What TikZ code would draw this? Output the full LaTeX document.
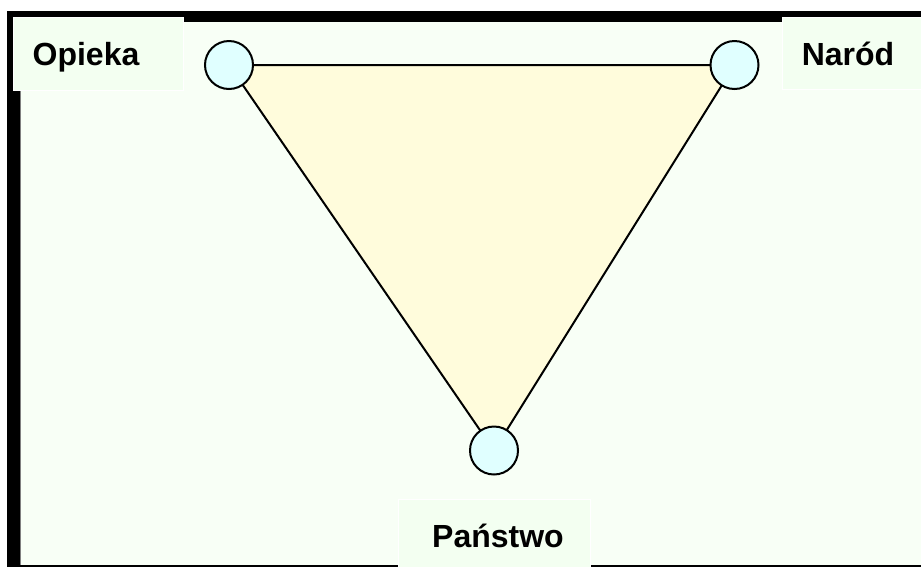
\documentclass[tikz,border=0pt]{standalone}
\usepackage{fontspec}
\setmainfont{Liberation Sans}
\definecolor{bgc}{HTML}{F8FFF6}
\definecolor{boxc}{HTML}{F3FFF1}
\definecolor{trif}{HTML}{FFFCDC}
\definecolor{circf}{HTML}{E0FFFF}
\begin{document}
\begin{tikzpicture}[x=1pt,y=-1pt,
  lbl/.style={fill=boxc,draw=white,line width=0.8pt,inner sep=0pt},
  lbltext/.style={font=\fontsize{32}{36}\selectfont\bfseries,anchor=base,inner sep=0pt},
  vtx/.style={circle,draw=black,fill=circf,line width=2pt,minimum size=48pt,inner sep=0pt},
  edge/.style={draw=black,line width=2pt}]
\useasboundingbox (0,0) rectangle (921,566);
\fill[white] (0,0) rectangle (921,566);
% frame
\fill[black] (7,11) rectangle (930,575);
\fill[bgc] (20,22) rectangle (930,565);
\draw[gray,line width=0.6pt] (20.3,22) -- (20.3,565);
% label boxes
\path[lbl] (13,17) rectangle (183,90);
\path[lbl] (782,17) rectangle (930,89);
\path[lbl] (398,499) rectangle (590,570);
\node[lbltext] (opieka) at (86,65) {Opieka};
\node[lbltext] (narod) at (848,65) {Naród};
\node[lbltext] (panstwo) at (498,547) {Państwo};
% triangle
\coordinate (a) at (229,65);
\coordinate (b) at (734.5,65);
\coordinate (c) at (494,450.5);
\fill[trif] (a) -- (b) -- (c) -- cycle;
\draw[edge,line join=round] (a) -- (b) -- (c) -- cycle;
\node[vtx] (va) at (a) {};
\node[vtx] (vb) at (b) {};
\node[vtx] (vc) at (c) {};
\end{tikzpicture}
\end{document}
